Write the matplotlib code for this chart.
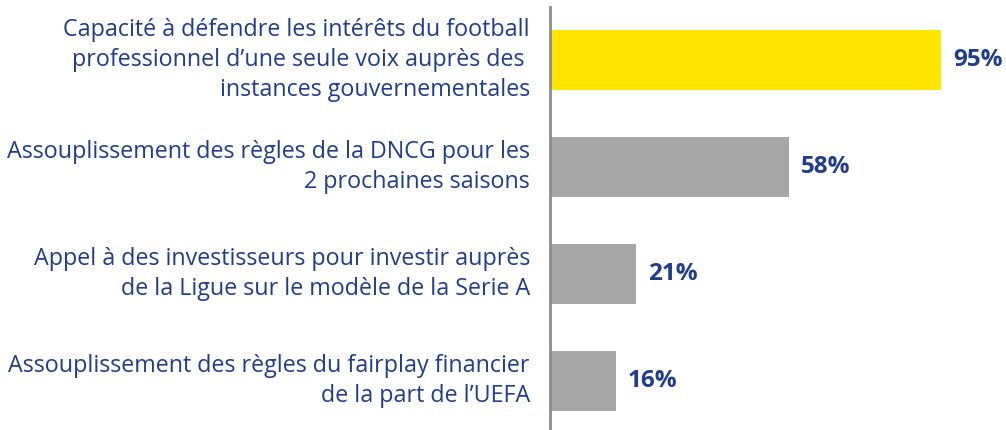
import matplotlib
matplotlib.use("Agg")
import matplotlib.pyplot as plt
from matplotlib.text import Text

categories = [
    "Capacité à défendre les intérêts du football\nprofessionnel d’une seule voix auprès des \ninstances gouvernementales",
    "Assouplissement des règles de la DNCG pour les\n2 prochaines saisons",
    "Appel à des investisseurs pour investir auprès\nde la Ligue sur le modèle de la Serie A",
    "Assouplissement des règles du fairplay financier\nde la part de l’UEFA",
]
values = [95, 58, 21, 16]
bar_colors = ["#FFE500", "#A6A6A6", "#A6A6A6", "#A6A6A6"]
value_labels = ["95%", "58%", "21%", "16%"]

W, H, DPI = 1006, 430, 100
fig = plt.figure(figsize=(W / DPI, H / DPI), dpi=DPI)
ax = fig.add_axes([550 / W, 0, 1 - 550 / W, 423 / H])

ypos = list(range(len(values)))
ax.barh(ypos, values, height=0.56, color=bar_colors, zorder=2)
ax.set_xlim(0, 110.8)
ax.set_ylim(3.458, -0.495)

for s in ["top", "right", "bottom"]:
    ax.spines[s].set_visible(False)
ax.spines["left"].set_color("#8C8C8C")
ax.spines["left"].set_linewidth(2)
ax.set_xticks([])
ax.set_yticks([])

navy = "#203C8C"
fam = ["Open Sans", "DejaVu Sans"]

fs = 15.5
texts = []
for y, c in zip(ypos, categories):
    t = ax.annotate(c, xy=(0, y), xycoords="data", xytext=(-20, 0),
                    textcoords="offset pixels", ha="right", va="center",
                    multialignment="right", fontsize=fs, color=navy,
                    family=fam, linespacing=1.33)
    texts.append(t)

fig.canvas.draw()
r = fig.canvas.get_renderer()
probe = Text(0, 0, "Capacité à défendre les intérêts du football", fontsize=fs, family=fam)
probe.set_figure(fig)
w = probe.get_window_extent(r).width
scale = 468 / w
for t in texts:
    t.set_fontsize(fs * scale)

for y, v, lab in zip(ypos, values, value_labels):
    ax.annotate(lab, xy=(v, y), xytext=(12, 0), textcoords="offset pixels",
                ha="left", va="center", fontsize=17.5, fontweight="bold",
                color=navy, family=fam)

fig.savefig("out.png", dpi=DPI)
